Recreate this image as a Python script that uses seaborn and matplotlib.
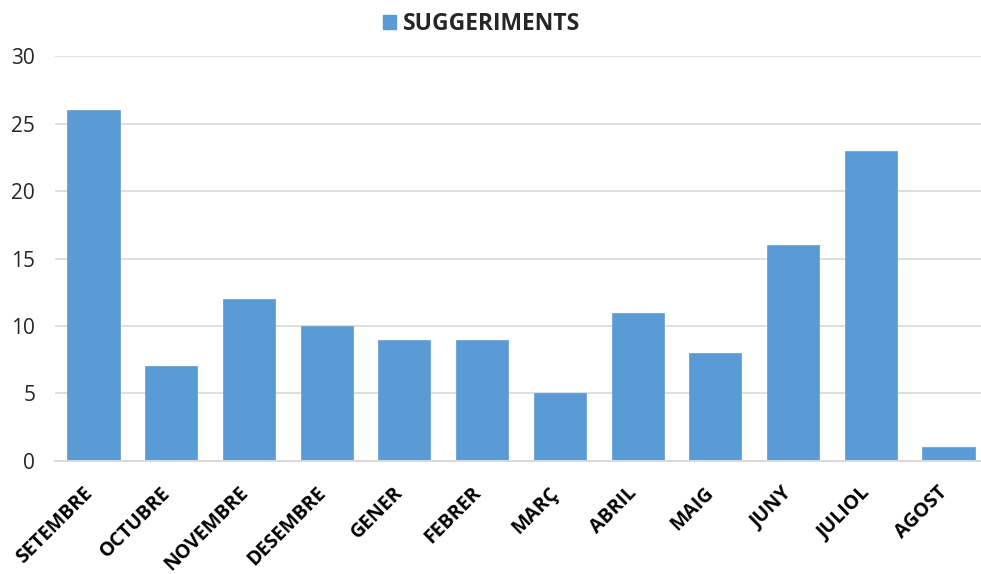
import matplotlib
matplotlib.use("Agg")
import matplotlib.pyplot as plt
import matplotlib.transforms as mtransforms
import seaborn as sns
import pandas as pd
from matplotlib.patches import Patch

months = ["SETEMBRE", "OCTUBRE", "NOVEMBRE", "DESEMBRE", "GENER", "FEBRER",
          "MARÇ", "ABRIL", "MAIG", "JUNY", "JULIOL", "AGOST"]
suggeriments = [26, 7, 12, 10, 9, 9, 5, 11, 8, 16, 23, 1]
series_name = "SUGGERIMENTS"
yticks = [0, 5, 10, 15, 20, 25, 30]

sns.set_theme(style="white")
plt.rcParams['font.family'] = ['Open Sans', 'DejaVu Sans']

df = pd.DataFrame({"mes": months, "valor": suggeriments})

fig = plt.figure(figsize=(9.81, 5.74), dpi=100)
ax = fig.add_axes([0.0557, 0.197, 0.9508, 0.705])
sns.barplot(data=df, x="mes", y="valor", color="#5B9BD5", saturation=1,
            width=0.67, ax=ax, edgecolor="#5B9BD5", linewidth=0.5)

ax.set_ylim(0, 30)
ax.set_yticks(yticks)
ax.set_yticklabels([str(v) for v in yticks], fontsize=15, color="#262626")
ax.yaxis.grid(True, color="#D9D9D9", linewidth=1.2)
ax.set_axisbelow(True)
for s in ["top", "right", "left"]:
    ax.spines[s].set_visible(False)
ax.spines["bottom"].set_color("#D9D9D9")
ax.spines["bottom"].set_linewidth(1.5)
ax.tick_params(axis="both", length=0)
ax.tick_params(axis="y", pad=14)
ax.set_xlim(-0.5, len(months) - 0.5)
ax.set_xlabel("")
ax.set_ylabel("")
ax.set_xticks(range(len(months)))
ax.set_xticklabels(months, rotation=45, ha="right", va="center", rotation_mode="anchor",
                   fontsize=14, fontweight="bold", color="black")
ax.tick_params(axis="x", pad=21)
shift = mtransforms.ScaledTranslation(-4 / 100, 0, fig.dpi_scale_trans)
for lbl in ax.get_xticklabels():
    lbl.set_transform(lbl.get_transform() + shift)

handles = [Patch(facecolor="#5B9BD5", edgecolor="#5B9BD5")]
fig.legend(handles, [series_name], loc="upper center", bbox_to_anchor=(0.491, 1.015),
           frameon=False, prop={"weight": "bold", "size": 16.5},
           handlelength=0.6, handleheight=0.6, handletextpad=0.3)

fig.savefig("out.png", dpi=100)
